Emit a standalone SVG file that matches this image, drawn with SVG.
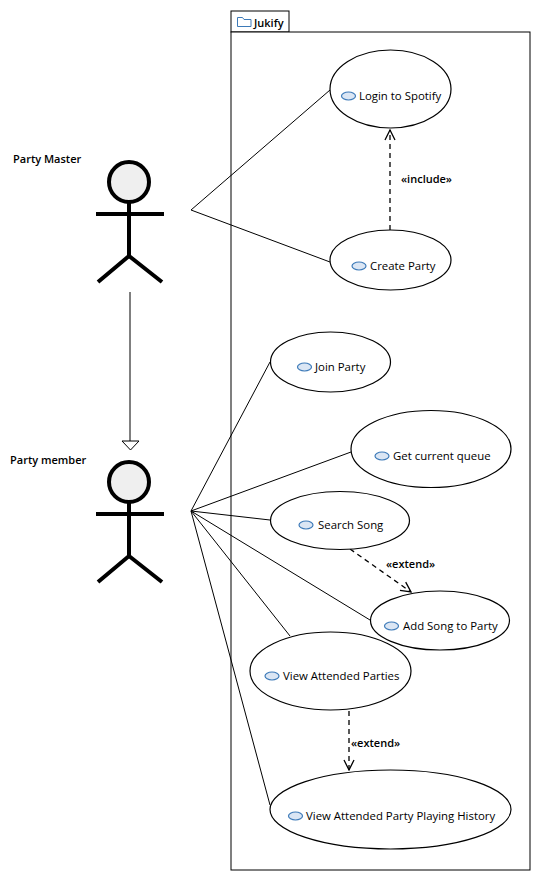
<svg xmlns="http://www.w3.org/2000/svg" width="541" height="881" viewBox="0 0 541 881">
<style>
text{font-family:"Open Sans","Noto Sans",sans-serif;font-size:11.4px;font-weight:500;fill:#000}
.st{font-weight:600;font-size:11px}
.uc{fill:#fff;stroke:#000;stroke-width:1.2}
.ic{fill:#dbe6f4;stroke:#3d7ab8;stroke-width:1.2}
.ln{fill:none;stroke:#000;stroke-width:1}
.dl{fill:none;stroke:#000;stroke-width:1.3;stroke-dasharray:5,4}
.act{fill:none;stroke:#000;stroke-width:4}
</style>
<defs>
<marker id="open" viewBox="0 0 12 12" refX="11" refY="6" markerWidth="12" markerHeight="12" markerUnits="userSpaceOnUse" orient="auto">
<path d="M1,1 L11,6 L1,11" fill="none" stroke="#000" stroke-width="1.3"/>
</marker>
</defs>
<rect width="541" height="881" fill="#fff"/>
<g id="package">
<rect x="231" y="11" width="58" height="21" fill="#fff" stroke="#000" stroke-width="1"/>
<rect x="231" y="32" width="299" height="838" fill="#fff" stroke="#000" stroke-width="1"/>
<path d="M237.5,17.5 h5 l1.5,2 h7 v7 h-13.5 z" fill="#fff" stroke="#3d7ab8" stroke-width="1"/>
<text x="254" y="27" class="st">Jukify</text>
</g>
<g id="connectors">
<line class="ln" x1="191" y1="210" x2="330" y2="90"/>
<line class="ln" x1="191" y1="210" x2="330" y2="262"/>
<line class="ln" x1="191" y1="511" x2="270" y2="362"/>
<line class="ln" x1="191" y1="511" x2="351" y2="452"/>
<line class="ln" x1="191" y1="511" x2="270" y2="520"/>
<line class="ln" x1="191" y1="511" x2="370" y2="620"/>
<line class="ln" x1="191" y1="511" x2="290" y2="636"/>
<line class="ln" x1="191" y1="511" x2="270" y2="805"/>
<line class="ln" x1="130" y1="292" x2="130" y2="441"/>
<path d="M122,441 L139,441 L130.5,450 Z" fill="#fff" stroke="#000" stroke-width="1"/>
<line class="dl" x1="390" y1="230" x2="390" y2="130" marker-end="url(#open)"/>
<text x="401" y="183" class="st">«include»</text>
<line class="dl" x1="350" y1="549" x2="411" y2="592" marker-end="url(#open)"/>
<text x="386" y="568" class="st">«extend»</text>
<line class="dl" x1="349" y1="711" x2="349" y2="770" marker-end="url(#open)"/>
<text x="351" y="747" class="st">«extend»</text>
</g>
<g id="actor-party-master">
<circle cx="129" cy="182" r="20" fill="#efefef" stroke="#000" stroke-width="4"/>
<line class="act" x1="96" y1="214" x2="164" y2="214"/>
<line class="act" x1="129" y1="202" x2="129" y2="255"/>
<path class="act" d="M98,282 L129,256 L162,282"/>
<text x="13" y="163" class="st">Party Master</text>
</g>
<g id="actor-party-member">
<circle cx="129" cy="482" r="20" fill="#efefef" stroke="#000" stroke-width="4"/>
<line class="act" x1="96" y1="514" x2="164" y2="514"/>
<line class="act" x1="129" y1="502" x2="129" y2="555"/>
<path class="act" d="M98,582 L129,556 L162,582"/>
<text x="10" y="464" class="st">Party member</text>
</g>
<g id="uc-login">
<ellipse class="uc" cx="390.5" cy="89" rx="60.5" ry="39"/>
<ellipse class="ic" cx="348.5" cy="96" rx="7" ry="4"/>
<text x="359" y="100">Login to Spotify</text>
</g>
<g id="uc-create">
<ellipse class="uc" cx="390.5" cy="260" rx="60.5" ry="30"/>
<ellipse class="ic" cx="359" cy="266" rx="7" ry="4"/>
<text x="370" y="270">Create Party</text>
</g>
<g id="uc-join">
<ellipse class="uc" cx="330.5" cy="362" rx="60" ry="30"/>
<ellipse class="ic" cx="304.5" cy="367" rx="7" ry="4"/>
<text x="315" y="371">Join Party</text>
</g>
<g id="uc-queue">
<ellipse class="uc" cx="431" cy="449" rx="80" ry="38.5"/>
<ellipse class="ic" cx="382" cy="456" rx="7" ry="4"/>
<text x="393" y="460">Get current queue</text>
</g>
<g id="uc-search">
<ellipse class="uc" cx="340" cy="520.5" rx="69.5" ry="29"/>
<ellipse class="ic" cx="306" cy="525" rx="7" ry="4"/>
<text x="318" y="529">Search Song</text>
</g>
<g id="uc-add">
<ellipse class="uc" cx="440" cy="620.5" rx="69.5" ry="29.5"/>
<ellipse class="ic" cx="391.5" cy="626" rx="7" ry="4"/>
<text x="403" y="630">Add Song to Party</text>
</g>
<g id="uc-attended">
<ellipse class="uc" cx="330.5" cy="671" rx="80.5" ry="39"/>
<ellipse class="ic" cx="272" cy="676" rx="7" ry="4"/>
<text x="283" y="680">View Attended Parties</text>
</g>
<g id="uc-history">
<ellipse class="uc" cx="390.5" cy="809.5" rx="120.5" ry="39.5"/>
<ellipse class="ic" cx="295.5" cy="816" rx="7" ry="4"/>
<text x="306" y="820">View Attended Party Playing History</text>
</g>
</svg>
